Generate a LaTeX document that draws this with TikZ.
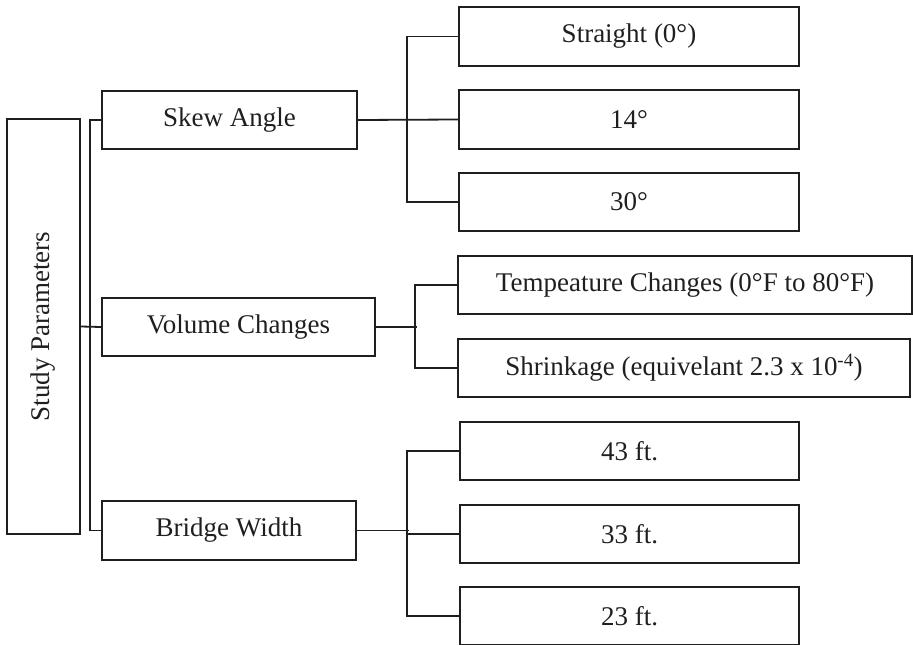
\documentclass[tikz,border=0pt]{standalone}
\usepackage{fontspec}
\setmainfont{Liberation Serif}
\begin{document}
\begin{tikzpicture}[x=1pt,y=-1pt,
  box/.style={draw=black!88, line width=1.6pt, rectangle, inner sep=0pt, minimum height=58pt, font=\fontsize{27}{30}\selectfont, text=black!88},
  conn/.style={draw=black!88, line width=1.8pt}]
\useasboundingbox (0,0) rectangle (913,645);
\node[box, minimum width=415pt, minimum height=73pt, rotate=90] (study) at (43.5,326.5) {Study Parameters};
\node[box, minimum width=255pt] (skew) at (229.5,120) {Skew Angle};
\node[box, minimum width=273pt] (volume) at (238.5,327) {Volume Changes};
\node[box, minimum width=254pt, minimum height=59pt] (bridge) at (229,530.5) {Bridge Width};
\node[box, minimum width=340pt, minimum height=59pt] (straight) at (629,36.5) {Straight (0°)};
\node[box, minimum width=340pt, minimum height=59pt] (s14) at (629,119.5) {14°};
\node[box, minimum width=340pt] (s30) at (629,202) {30°};
\node[box, minimum width=454pt] (temp) at (685,285) {Tempeature Changes (0°F to 80°F)};
\node[box, minimum width=452pt] (shrink) at (684,368) {Shrinkage (equivelant 2.3 x 10\textsuperscript{-4})};
\node[box, minimum width=339pt] (w43) at (629.5,451) {43 ft.};
\node[box, minimum width=339pt] (w33) at (629.5,534) {33 ft.};
\node[box, minimum width=339pt] (w23) at (629.5,616) {23 ft.};
% root connectors
\draw[conn] (study.south) -- (volume.west);
\draw[conn] (skew.west) -- ([xshift=-11pt]skew.west) |- (bridge.west);
% skew angle
\draw[conn] (skew.east) -- (s14.west);
\draw[conn] (straight.west) -- ++(-51,0) |- (s30.west);
% volume changes
\draw[conn] (volume.east) -- ([xshift=41pt]volume.east);
\draw[conn] (temp.west) -- ++(-42,0) |- (shrink.west);
% bridge width
\draw[conn] (bridge.east) -- ([xshift=52pt]bridge.east);
\draw[conn] (w43.west) -- ++(-52,0) |- (w23.west);
\draw[conn] (w33.west) -- ++(-52,0);
\end{tikzpicture}
\end{document}
